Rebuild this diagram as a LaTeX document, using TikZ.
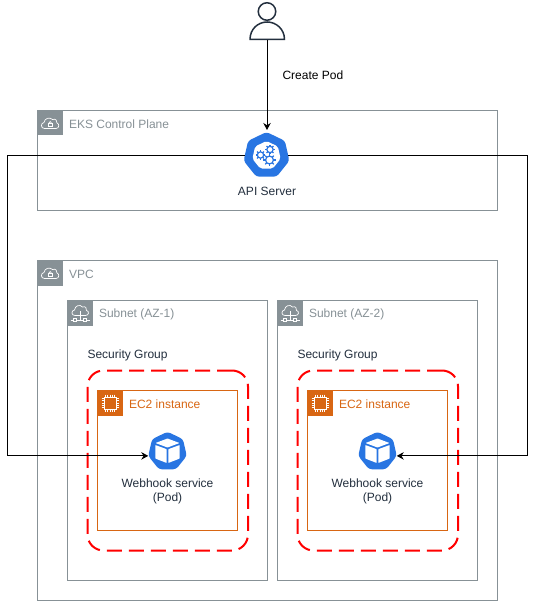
\documentclass[tikz,border=0pt]{standalone}
\usepackage{fontspec}
\setmainfont{Liberation Sans}
\usetikzlibrary{shapes.geometric,arrows.meta}
\definecolor{awsgrey}{HTML}{879196}
\definecolor{awsorange}{HTML}{D86613}
\definecolor{k8sblue}{HTML}{2875E2}
\definecolor{inktext}{HTML}{232F3E}
\tikzset{
  x=1pt,y=-1pt,
  every node/.style={font=\fontsize{12}{14}\selectfont,inner sep=0pt,outer sep=0pt},
  groupbox/.style={draw=awsgrey,line width=1pt,anchor=north west,fill=none},
  ec2box/.style={draw=awsorange,line width=1pt,anchor=north west},
  sgbox/.style={draw=red,line width=2pt,dash pattern=on 15pt off 7pt,rounded corners=16pt,anchor=north west},
  grouplabel/.style={anchor=west,text=awsgrey},
  ec2label/.style={anchor=west,text=awsorange},
  plainlabel/.style={anchor=west,text=inktext},
  centrelabel/.style={align=center,text=inktext},
  k8s/.style={regular polygon,regular polygon sides=7,fill=k8sblue,rounded corners=3pt},
  link/.style={draw=black,line width=1pt,-{Stealth[length=7pt,width=7.5pt]}},
  cloudline/.style={draw=white,line width=0.7pt,fill=none},
  cloudlock/.pic={
    \fill[awsgrey] (0,0) rectangle (25,25);
    \draw[cloudline,line join=round] (7,18) .. controls (3,18) and (3,12.5) .. (6.5,12)
      .. controls (7,8) and (12,6) .. (15,9) .. controls (18,8) and (20,10) .. (19.5,12.5)
      .. controls (22,13) and (22,18) .. (18.5,18) -- cycle;
    \draw[cloudline] (10.5,12.5) rectangle (15,16);
    \draw[cloudline] (11.5,12.5) arc[start angle=180,end angle=0,x radius=1.2pt,y radius=1.5pt];
  },
  cloudnet/.pic={
    \fill[awsgrey] (0,0) rectangle (25,25);
    \draw[cloudline,line join=round] (7.5,15) .. controls (3.5,15) and (3.5,10) .. (7,9.5)
      .. controls (7.5,5) and (12.5,3.5) .. (15,6.5) .. controls (18,5.5) and (19.5,7.5) .. (19,10)
      .. controls (22,10.5) and (21.5,15) .. (18,15) -- cycle;
    \draw[cloudline] (12.5,10.5) -- (12.5,20);
    \draw[cloudline] (3,19.5) -- (22,19.5);
    \draw[cloudline,fill=awsgrey] (6,18) rectangle (9,21);
    \draw[cloudline,fill=awsgrey] (16,18) rectangle (19,21);
  },
  chip/.pic={
    \fill[awsorange] (0,0) rectangle (25,25);
    \draw[white,line width=0.8pt] (6.5,6.5) rectangle (18.5,18.5);
    \foreach \t in {8,10.2,12.5,14.8,17}{
      \draw[white,line width=0.5pt] (\t,4) -- (\t,6.5) (\t,18.5) -- (\t,21);
      \draw[white,line width=0.5pt] (4,\t) -- (6.5,\t) (18.5,\t) -- (21,\t);
    }
  },
  cube/.pic={
    \fill[white,line join=round,rounded corners=0.6pt] (0,-12.5) -- (12,-8) -- (0,-3.5) -- (-12,-8) -- cycle;
    \fill[white,rounded corners=0.6pt] (-12.2,-6) -- (-0.8,-1.8) -- (-0.8,12) -- (-12.2,7.5) -- cycle;
    \fill[white,rounded corners=0.6pt] (12.2,-6) -- (0.8,-1.8) -- (0.8,12) -- (12.2,7.5) -- cycle;
  },
}
\newcommand{\gearat}[3]{%
  \foreach \a in {0,45,...,315}{\draw[k8sblue,line width=1.3pt] (#1,#2) ++(\a:#3*0.62) -- ++(\a:#3*0.42);}
  \draw[k8sblue,line width=1.2pt,fill=white] (#1,#2) circle[radius=#3*0.68];
}
\begin{document}
\begin{tikzpicture}
\useasboundingbox (0,0) rectangle (536,601);
\fill[white] (0,0) rectangle (536,601);

% groups
\node[groupbox,minimum width=460pt,minimum height=100pt] (eks) at (37.5,110.5) {};
\node[groupbox,minimum width=460pt,minimum height=340pt] (vpc) at (37.5,260.5) {};
\node[groupbox,minimum width=200pt,minimum height=280pt] (subnetA) at (67.5,300.5) {};
\node[groupbox,minimum width=200pt,minimum height=280pt] (subnetB) at (277.5,300.5) {};
\node[sgbox,minimum width=160.5pt,minimum height=180pt] (sgA) at (87.5,370.5) {};
\node[sgbox,minimum width=160.5pt,minimum height=180pt] (sgB) at (297.5,370.5) {};
\node[ec2box,minimum width=140pt,minimum height=140pt] (ec2A) at (97.5,390.5) {};
\node[ec2box,minimum width=140pt,minimum height=140pt] (ec2B) at (307.5,390.5) {};

\pic at (37.5,110.5) {cloudlock};
\pic at (37.5,260.5) {cloudlock};
\pic at (67.5,300.5) {cloudnet};
\pic at (277.5,300.5) {cloudnet};
\pic at (97.5,390.5) {chip};
\pic at (307.5,390.5) {chip};

\node[grouplabel] (eksT) at (69,124) {EKS Control Plane};
\node[grouplabel] (vpcT) at (69,274) {VPC};
\node[grouplabel] (subATxt) at (99,314) {Subnet (AZ-1)};
\node[grouplabel] (subBTxt) at (309,314) {Subnet (AZ-2)};
\node[plainlabel] (sgAT) at (87.5,355.5) {Security Group};
\node[plainlabel] (sgBT) at (297.5,355.5) {Security Group};
\node[ec2label] (ec2AT) at (129,404) {EC2 instance};
\node[ec2label] (ec2BT) at (339,404) {EC2 instance};

% icons
\node[k8s,minimum size=47pt] (api) at (266.5,155.5) {};
\node[k8s,minimum size=39.5pt] (podA) at (167.5,451.5) {};
\node[k8s,minimum size=39.5pt] (podB) at (377.5,451.5) {};
\node[regular polygon,regular polygon sides=7,fill=white,rounded corners=2pt,minimum size=29pt] (apiIn) at (266.5,155.5) {};
\gearat{270}{149.5}{4.6}
\gearat{260.5}{155}{4.6}
\gearat{269.5}{160}{5.8}
\pic at (167.5,451) {cube};
\pic at (377.5,451) {cube};

% user
\node[circle,draw=inktext,line width=1.5pt,minimum size=17.5pt] (head) at (267,11.5) {};
\draw[inktext,line width=1.5pt,fill=white,line join=round] (250,39.5) -- (284.5,39.5)
  .. controls (284.5,29) and (276,22) .. (267.2,22)
  .. controls (258,22) and (250,29) .. (250,39.5) -- cycle;
\coordinate (userFoot) at (267,40);

% connectors
\draw[link,shorten >=2pt] (userFoot) -- (userFoot |- api.north);
\coordinate (leftTurn) at (7.5,155);
\coordinate (rightTurn) at (527.5,155);
\draw[link] (api.west) -- (api.west -| leftTurn) |- (podA.corner 3);
\draw[link] (api.east) -- (api.east -| rightTurn) |- (podB.corner 6);

% text
\node[plainlabel,text=black] (createT) at (282.5,75) {Create Pod};
\node[centrelabel] (apiT) at (267,191.5) {API Server};
\node[centrelabel] (podAT) at (167.5,491.5) {Webhook service\\(Pod)};
\node[centrelabel] (podBT) at (377.5,491.5) {Webhook service\\(Pod)};
\end{tikzpicture}
\end{document}
